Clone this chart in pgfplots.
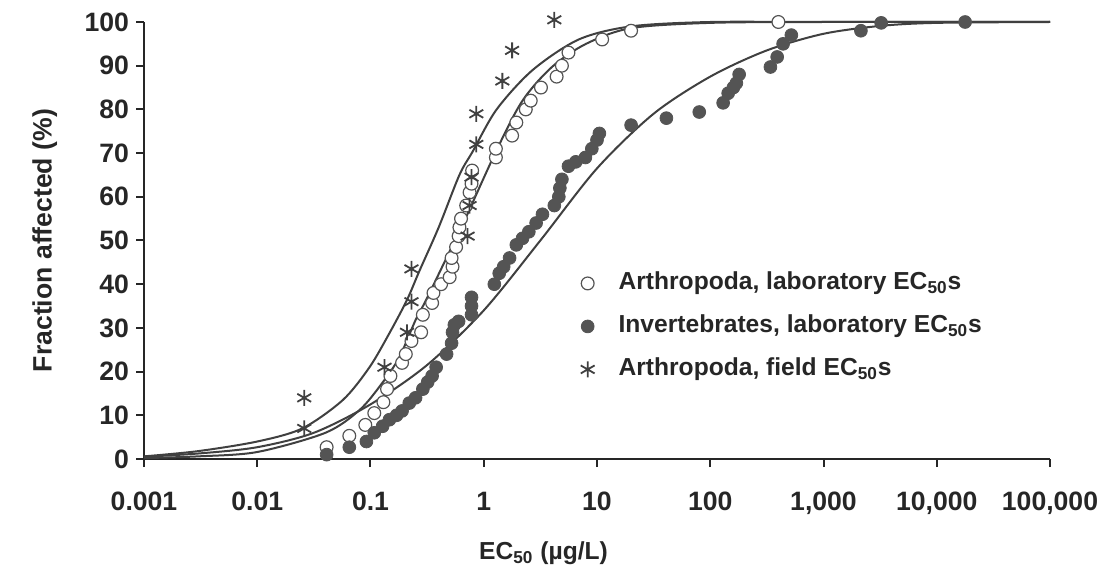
\documentclass[border=0pt]{standalone}
\usepackage{pgfplots}
\pgfplotsset{compat=1.18}
\usepackage{fontspec}
\setmainfont{Liberation Sans}
\definecolor{curve}{gray}{0.25}
\definecolor{dot}{gray}{0.33}
\newcommand{\tickfont}{\bfseries\fontsize{13.3}{16}\selectfont}
\newcommand{\legfont}{\bfseries\fontsize{12.3}{15}\selectfont}
\newcommand{\xlfont}{\bfseries\fontsize{12.3}{15}\selectfont}
\begin{document}
\begin{tikzpicture}
\path[use as bounding box] (-72pt,-57pt) rectangle (476.5pt,229.5pt);
\begin{axis}[
  scale only axis, width=453pt, height=218.5pt,
  xmode=log, xmin=0.001, xmax=100000, ymin=0, ymax=100,
  axis lines*=left,
  axis line style={line width=1.2pt, black!85},
  xtick={0.001,0.01,0.1,1,10,100,1000,10000,100000},
  xticklabels={0.001,0.01,0.1,1,10,100,{1,000},{10,000},{100,000}},
  xminorticks=false,
  ytick={0,10,...,100},
  tick align=outside, major tick length=4pt,
  tick style={line width=1pt, black!85},
  /pgf/number format/assume math mode=true,
  tick label style={font=\tickfont, black!85},
  xticklabel style={yshift=-9pt},
  xlabel={EC\textsubscript{50} (µg/L)},
  ylabel={Fraction affected (\%)},
  xlabel style={font=\xlfont, black!85, at={(axis description cs:0.441,-0.215)}, anchor=center},
  ylabel style={font=\tickfont, black!85, at={(axis description cs:-0.1095,0.5)}, anchor=center},
  clip=false,
  legend style={draw=none, fill=none, at={(0.475,0.445)}, anchor=north west,
    font=\legfont, text=black!85, row sep=7pt, cells={anchor=west},
    nodes={inner sep=1pt, text height=9.5pt, text depth=3pt}},
  legend cell align=left,
]
% fitted curves
\addplot[smooth, line width=1pt, curve, forget plot] coordinates {
(0.001,0.6)(0.003,1.8)(0.01,4)(0.025,7)(0.057,13.5)(0.098,21)(0.147,28.8)(0.21,36.4)(0.27,43)(0.4,53)(0.61,65)(0.8,70.4)(1.3,80)(2.7,89)(6.9,96)(20,99)(100,100)(1000,100)(100000,100)};
\addplot[smooth, line width=1pt, curve, forget plot] coordinates {
(0.001,0.2)(0.003,0.6)(0.01,1.6)(0.04,6)(0.08,11.2)(0.127,17.4)(0.18,23.3)(0.25,31.8)(0.31,36.4)(0.5,47.5)(0.61,52)(1.3,70.7)(2.2,82)(4,89.7)(8,95)(20,98.6)(100,99.8)(1000,100)(100000,100)};
\addplot[smooth, line width=1pt, curve, forget plot] coordinates {
(0.001,0.5)(0.00316,1.3)(0.01,2.7)(0.0316,6)(0.1,12.5)(0.316,21.5)(1,34)(3.16,50)(10,66.5)(31.6,79)(100,87.5)(316,93.5)(1000,97.3)(3162,99.1)(10000,99.8)(100000,100)};
% Arthropoda, laboratory
\addplot[only marks, mark=*, mark size=3.2pt, mark options={draw=dot, fill=white, line width=0.6pt}] coordinates {
(0.041,2.7)(0.065,5.3)(0.09,7.8)(0.108,10.5)(0.13,13)(0.14,16)(0.15,19)(0.19,22)(0.205,24)(0.23,27)(0.28,29)(0.29,33)(0.35,35.7)(0.36,38)(0.42,40)(0.50,41.6)(0.53,44)(0.52,46)(0.57,48.5)(0.6,51)(0.61,53)(0.63,55)(0.7,58)(0.75,61)(0.78,63)(0.79,66)(1.28,69)(1.28,71)(1.78,74)(1.94,77)(2.35,80)(2.6,82)(3.2,85)(4.4,87.5)(4.9,90)(5.6,93)(11.1,96)(20,98)(400,100)};
\addlegendentry{\hspace{11pt}Arthropoda, laboratory EC\textsubscript{50}s}
% Invertebrates, laboratory
\addplot[only marks, mark=*, mark size=3.2pt, mark options={draw=dot, fill=dot}] coordinates {
(0.041,1)(0.065,2.7)(0.092,4)(0.108,6)(0.128,7.5)(0.147,9)(0.17,10)(0.19,11)(0.22,12.8)(0.25,14)(0.29,16)(0.32,17.6)(0.35,19)(0.38,21)(0.47,24)(0.52,26.5)(0.53,29)(0.55,30.7)(0.6,31.5)(0.78,33)(0.78,35)(0.78,37)(1.24,40)(1.37,42.5)(1.5,44)(1.69,46)(1.94,49)(2.2,50.5)(2.5,52)(2.9,54)(3.3,56)(4.2,58)(4.6,60)(4.7,62)(4.9,64)(5.6,67)(6.5,68)(7.9,69)(9,71)(10,73)(10.5,74.5)(20,76.4)(41,78)(80,79.4)(130,81.5)(144,83.7)(160,85)(170,86)(180,88)(340,89.7)(390,92)(440,95)(520,97)(2140,98)(3230,99.8)(17800,100)};
\addlegendentry{\hspace{11pt}Invertebrates, laboratory EC\textsubscript{50}s}
% Arthropoda, field
\addplot[only marks, mark=asterisk, mark size=4pt, mark options={draw=black!75, line width=0.9pt}] coordinates {
(0.026,7)(0.026,14)(0.133,21)(0.21,29)(0.23,36)(0.23,43.5)(0.72,51)(0.75,58)(0.78,64.5)(0.86,72)(0.86,79)(1.46,86.5)(1.78,93.5)(4.2,100.5)};
\addlegendentry{\hspace{11pt}Arthropoda, field EC\textsubscript{50}s}
\end{axis}
\end{tikzpicture}
\end{document}
